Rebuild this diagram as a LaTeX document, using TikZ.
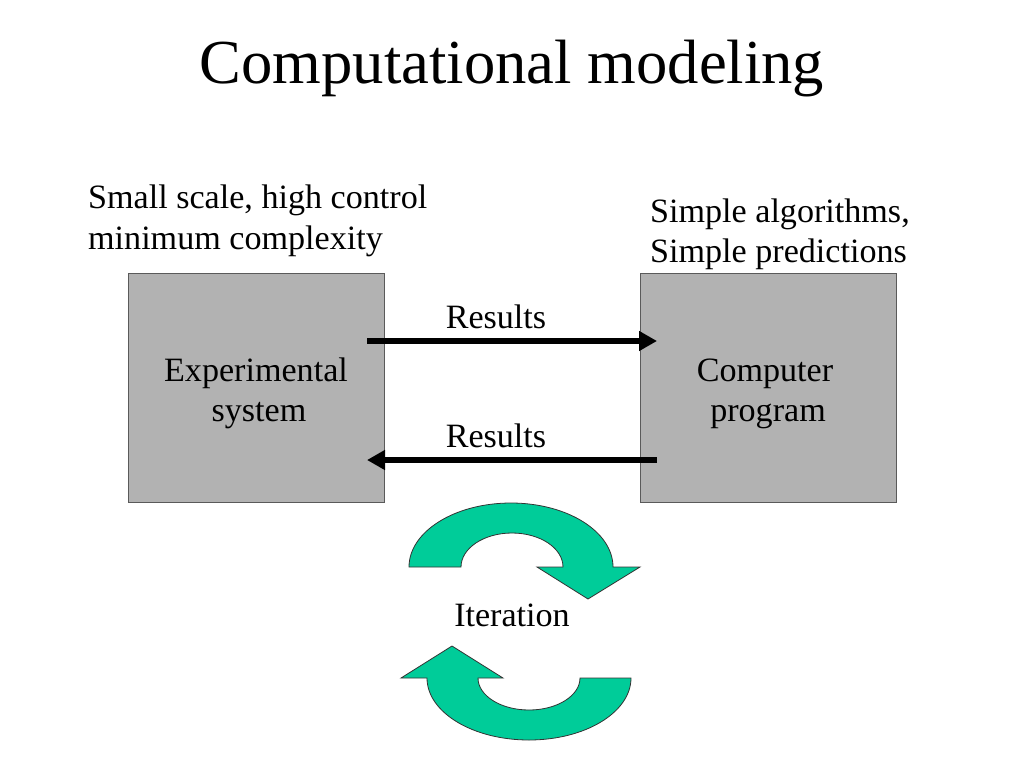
\documentclass[tikz,border=0pt]{standalone}
\usepackage{fontspec}
\setmainfont{Liberation Serif}
\usetikzlibrary{arrows.meta}
\definecolor{boxgray}{RGB}{178,178,178}
\definecolor{boxedge}{RGB}{90,90,90}
\definecolor{turq}{RGB}{0,204,153}
\tikzset{
  body/.style={font=\fontsize{34.1}{41}\selectfont, inner sep=0pt},
  box/.style={draw=boxedge, line width=0.8pt, fill=boxgray, minimum width=256pt, minimum height=229pt, inner sep=0pt},
  boxtext/.style={align=center, font=\fontsize{34.1}{40}\selectfont, inner sep=0pt},
  res/.style={line width=6pt, -{Triangle[length=18pt,width=19pt]}},
  cyc/.style={fill=turq, draw=black!80, line width=0.8pt, line join=miter}
}
\begin{document}
\begin{tikzpicture}[x=1pt,y=-1pt]
\useasboundingbox (0,0) rectangle (1024,768);
\node[font=\fontsize{62.6}{75}\selectfont, inner sep=0pt, anchor=base] (title) at (512,83) {Computational modeling};
\node[body, anchor=base west] (l1) at (88,208.5) {Small scale, high control};
\node[body, anchor=base west] (l2) at (88,249) {minimum complexity};
\node[body, anchor=base west] (r1) at (650,222) {Simple algorithms,};
\node[body, anchor=base west] (r2) at (650,262) {Simple predictions};
\node[box] (exp) at (256,387.5) {};
\node[box] (comp) at (768,387.5) {};
\node[boxtext] (expt) at ([yshift=-6pt]exp.center) {Experimental\\ \hspace*{6pt}system};
\node[boxtext] (compt) at ([yshift=-6pt,xshift=-3pt]comp.center) {Computer\\ \hspace*{6pt}program};
\coordinate (a1s) at (367,341);
\coordinate (a1e) at (657,341);
\coordinate (a2s) at (657,460);
\coordinate (a2e) at (367,460);
\draw[res] (a1s) -- (a1e);
\draw[res] (a2s) -- (a2e);
\node[body, anchor=base] (res1) at (496,328) {Results};
\node[body, anchor=base] (res2) at (496,447) {Results};
\node[body, anchor=base] (iter) at (512,626) {Iteration};
\draw[cyc] (409,567) arc[start angle=180, end angle=360, x radius=102, y radius=64]
  -- (640,567) -- (588,599) -- (537,567) -- (563,567)
  arc[start angle=0, end angle=-180, x radius=51, y radius=34] -- cycle;
\draw[cyc] (631,678) arc[start angle=0, end angle=180, x radius=102, y radius=62]
  -- (401,678) -- (452,646) -- (503,678) -- (478,678)
  arc[start angle=180, end angle=0, x radius=51, y radius=32] -- cycle;
\end{tikzpicture}
\end{document}
